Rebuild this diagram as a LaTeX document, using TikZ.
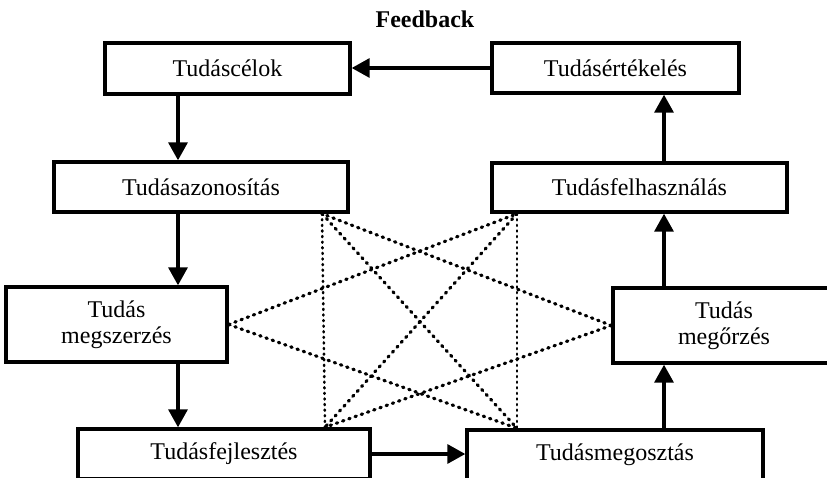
\documentclass[tikz,border=0pt]{standalone}
\usepackage{fontspec}
\setmainfont{Liberation Serif}
\usetikzlibrary{arrows.meta}
\tikzset{
  x=1pt, y=-1pt,
  box/.style={draw, line width=3.4pt, rectangle, inner sep=0pt, align=center,
    font=\fontsize{24}{26.5}\selectfont},
  arr/.style={line width=3.4pt, -{Triangle[length=18pt,width=19pt]}},
  dots/.style={line width=3.2pt, line cap=round, dash pattern=on 1.4pt off 5.2pt},
  vdots/.style={line width=2.6pt, line cap=round, dash pattern=on 1pt off 4.6pt},
}
\begin{document}
\begin{tikzpicture}
\useasboundingbox (0,0) rectangle (827,478);
\node[font=\fontsize{24}{26}\selectfont\bfseries] (fb) at (425,19) {Feedback};
\node[box, minimum width=245pt, minimum height=51pt] (cel) at (227.5,68.5) {Tudáscélok};
\node[box, minimum width=247pt, minimum height=50pt] (ert) at (615.5,68) {Tudásértékelés};
\node[box, minimum width=294pt, minimum height=50pt] (azo) at (201,187) {Tudásazonosítás};
\node[box, minimum width=295pt, minimum height=49pt] (fel) at (639.5,187.5) {Tudásfelhasználás};
\node[box, minimum width=221pt, minimum height=75pt] (msz) at (116.5,324.5) {Tudás\\megszerzés};
\node[box, minimum width=222pt, minimum height=75pt] (mor) at (724,325.5) {Tudás\\megőrzés};
\node[box, minimum width=292pt, minimum height=50pt] (fej) at (224,454) {Tudásfejlesztés};
\node[box, minimum width=296pt, minimum height=50pt] (mgs) at (615,455) {Tudásmegosztás};
\coordinate (lx) at (178,0);
\coordinate (rx) at (664,0);
% main flow
\draw[arr] (cel.south -| lx) -- (azo.north -| lx);
\draw[arr] (azo.south -| lx) -- (msz.north -| lx);
\draw[arr] (msz.south -| lx) -- (fej.north -| lx);
\draw[arr] (fej.east) -- (fej.east -| mgs.west);
\draw[arr] (mgs.north -| rx) -- (mor.south -| rx);
\draw[arr] (mor.north -| rx) -- (fel.south -| rx);
\draw[arr] (fel.north -| rx) -- (ert.south -| rx);
\draw[arr] (ert.west) -- (ert.west -| cel.east);
% dotted web
\coordinate (A) at ([xshift=121pt]azo.south);
\coordinate (B) at ([xshift=-122.5pt]fel.south);
\coordinate (E) at ([xshift=101pt]fej.north);
\coordinate (F) at ([xshift=-98pt]mgs.north);
\draw[vdots] (A) -- (E);
\draw[vdots] (B) -- (F);
\draw[dots] (A) -- (F);
\draw[dots] (B) -- (E);
\draw[dots] (msz.east) -- (B);
\draw[dots] (msz.east) -- (F);
\draw[dots] (mor.west) -- (A);
\draw[dots] (mor.west) -- (E);
\end{tikzpicture}
\end{document}
